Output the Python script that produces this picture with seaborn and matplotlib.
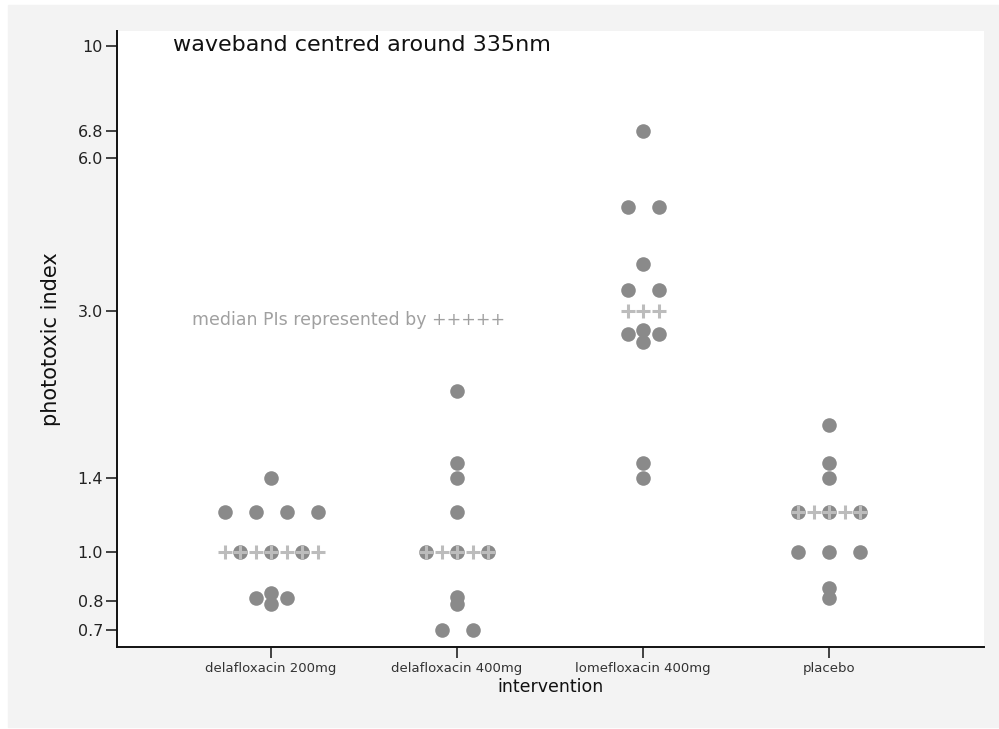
import numpy as np
import pandas as pd
import seaborn as sns
import matplotlib.pyplot as plt
from matplotlib.patches import Rectangle

# values (log scale y)
groups = ['delafloxacin 200mg', 'delafloxacin 400mg', 'lomefloxacin 400mg', 'placebo']
dela200 = [1.4, 1.2, 1.2, 1.2, 1.2, 1.0, 1.0, 1.0, 0.83, 0.81, 0.81, 0.79]
dela400 = [2.08, 1.5, 1.4, 1.2, 1.0, 1.0, 1.0, 0.815, 0.79, 0.7, 0.7]
lome400 = [6.8, 4.8, 4.8, 3.7, 3.3, 3.3, 2.75, 2.7, 2.7, 2.6, 1.5, 1.4]
placebo = [1.78, 1.5, 1.4, 1.2, 1.2, 1.2, 1.0, 1.0, 1.0, 0.85, 0.81]
medians = [1.0, 1.0, 3.0, 1.2]
plusCounts = [7, 5, 3, 5]
yTicks = [0.7, 0.8, 1.0, 1.4, 3.0, 6.0, 6.8, 10]
yTickLabels = ['0.7', '0.8', '1.0', '1.4', '3.0', '6.0', '6.8', '10']

DOT_STEP = 0.1667
PLUS_STEP = DOT_STEP / 2
DOT_COLOR = '#8a8a8a'
PLUS_COLOR = '#bcbcbc'
BG = '#f3f3f3'

# dot plot layout: equal values sit side by side, centred on the category
rows = []
for gi, vals in enumerate([dela200, dela400, lome400, placebo]):
    for v in sorted(set(vals)):
        n = vals.count(v)
        for k in range(n):
            rows.append({'x': gi + (k - (n - 1) / 2) * DOT_STEP, 'y': v, 'group': groups[gi]})
dots = pd.DataFrame(rows)

prow = []
for gi, (m, n) in enumerate(zip(medians, plusCounts)):
    for k in range(n):
        prow.append({'x': gi + (k - (n - 1) / 2) * PLUS_STEP, 'y': m})
pluses = pd.DataFrame(prow)

sns.set_style('white')
plt.rcParams['font.family'] = ['DejaVu Sans']

fig = plt.figure(figsize=(9.99, 7.29), dpi=100, facecolor='white')
fig.patches.append(Rectangle((8 / 999, 2 / 729), 1 - 8 / 999, 1 - 7 / 729,
                             transform=fig.transFigure, color=BG, zorder=-10))
ax = fig.add_axes([117 / 999, 82 / 729, 867 / 999, 616 / 729])
ax.set_facecolor('white')

sns.scatterplot(data=dots, x='x', y='y', color=DOT_COLOR, s=110, linewidth=0,
                ax=ax, zorder=3, legend=False)
sns.scatterplot(data=pluses, x='x', y='y', color=PLUS_COLOR, marker='+', s=90,
                linewidth=2.2, ax=ax, zorder=4, legend=False)

ax.set_yscale('log')
ax.set_ylim(0.649, 10.7)
ax.set_xlim(-0.828, 3.833)
ax.set_yticks(yTicks)
ax.set_yticklabels(yTickLabels)
ax.minorticks_off()
ax.set_xticks(range(len(groups)))
ax.set_xticklabels(groups)

for s in ['top', 'right']:
    ax.spines[s].set_visible(False)
for s in ['left', 'bottom']:
    ax.spines[s].set_color('#111111')
    ax.spines[s].set_linewidth(1.4)

ax.tick_params(axis='y', direction='out', length=8, width=1.1, color='#111111',
               labelsize=11.5, labelcolor='#222222', pad=2, left=True)
ax.tick_params(axis='x', direction='out', length=8, width=1.1, color='#111111',
               labelsize=9.5, labelcolor='#333333', pad=3, bottom=True)

ax.set_ylabel('phototoxic index', fontsize=15, color='#111111', labelpad=12)
ax.set_xlabel('intervention', fontsize=12.5, color='#111111', labelpad=2)

ax.text(0.0646, 0.977, 'waveband centred around 335nm', transform=ax.transAxes,
        fontsize=16, color='#111111', ha='left', va='center')
ax.text(0.0865, 0.531, 'median PIs represented by +++++', transform=ax.transAxes,
        fontsize=12.5, color='#a0a0a0', ha='left', va='center')

plt.savefig('out.png', dpi=100, facecolor=fig.get_facecolor())
